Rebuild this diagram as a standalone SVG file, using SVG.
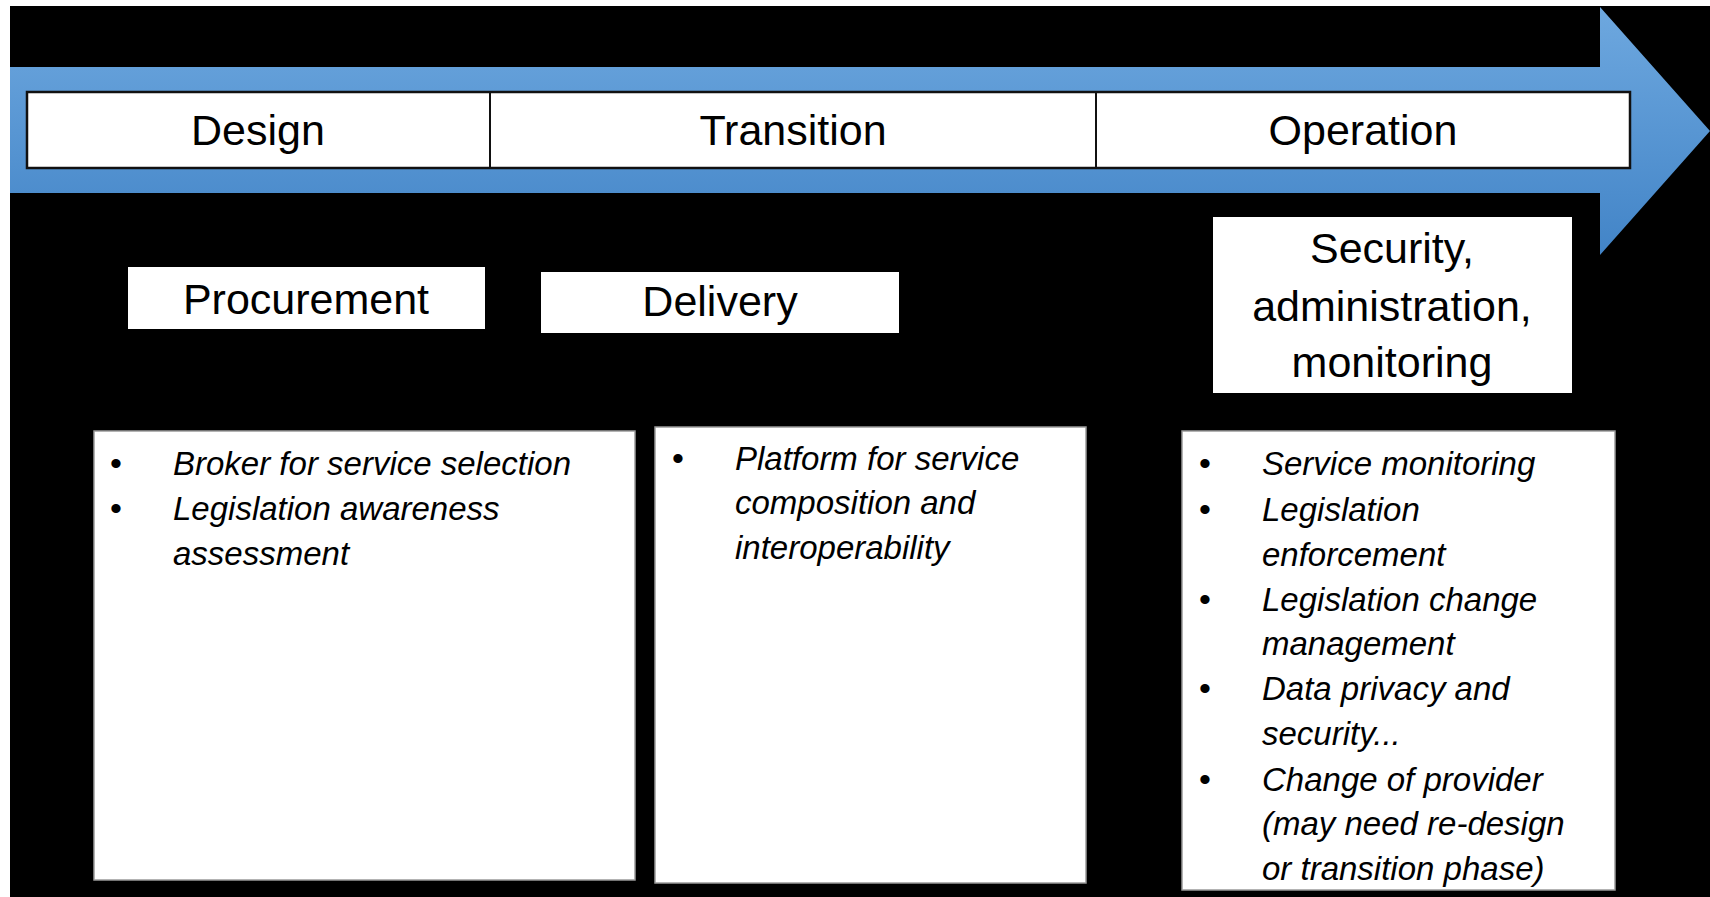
<svg xmlns="http://www.w3.org/2000/svg" width="1710" height="897" viewBox="0 0 1710 897">
  <defs>
    <linearGradient id="blue" gradientUnits="userSpaceOnUse" x1="0" y1="7" x2="0" y2="255">
      <stop offset="0" stop-color="#6ea8df"/>
      <stop offset="1" stop-color="#4284c7"/>
    </linearGradient>
  </defs>
  <style>
    .lbl { font-family: "Liberation Sans", Arial, sans-serif; font-size: 43px; fill: #000; text-anchor: middle; }
    .itm { font-family: "Liberation Sans", Arial, sans-serif; font-size: 33px; font-style: italic; fill: #000; }
    .bul { font-family: "Liberation Sans", Arial, sans-serif; font-size: 34px; fill: #000; }
    .box { fill: #fff; stroke: #9a9a9a; stroke-width: 1.5; }
    .band { fill: #fff; stroke: #111; stroke-width: 2.5; }
  </style>
  <rect x="0" y="0" width="1710" height="897" fill="#fff"/>
  <rect x="10" y="6" width="1700" height="891" fill="#000"/>

  <g id="timeline-arrow">
    <polygon points="10,67 1600,67 1600,7 1710,131 1600,255 1600,193 10,193" fill="url(#blue)"/>
    <rect x="27" y="92" width="1603" height="76" class="band"/>
    <line x1="490" y1="92" x2="490" y2="168" stroke="#111" stroke-width="2"/>
    <line x1="1096" y1="92" x2="1096" y2="168" stroke="#111" stroke-width="2"/>
  </g>
  <g id="phase-design"><text x="258" y="145" class="lbl">Design</text></g>
  <g id="phase-transition"><text x="793" y="145" class="lbl">Transition</text></g>
  <g id="phase-operation"><text x="1363" y="145" class="lbl">Operation</text></g>

  <g id="procurement">
    <rect x="128" y="267" width="357" height="62" fill="#fff"/>
    <text x="306" y="314" class="lbl">Procurement</text>
  </g>
  <g id="delivery">
    <rect x="541" y="272" width="358" height="61" fill="#fff"/>
    <text x="720" y="316" class="lbl">Delivery</text>
  </g>
  <g id="security">
    <rect x="1213" y="217" width="359" height="176" fill="#fff"/>
    <text x="1392" y="263" class="lbl">Security,</text>
    <text x="1392" y="321" class="lbl">administration,</text>
    <text x="1392" y="377" class="lbl">monitoring</text>
  </g>

  <g id="design-items">
    <rect x="94" y="431" width="541" height="449" class="box"/>
    <text x="110" y="475" class="bul">•</text>
    <text x="173" y="475" class="itm">Broker for service selection</text>
    <text x="110" y="520" class="bul">•</text>
    <text x="173" y="520" class="itm">Legislation awareness</text>
    <text x="173" y="565" class="itm">assessment</text>
  </g>
  <g id="transition-items">
    <rect x="655" y="427" width="431" height="456" class="box"/>
    <text x="672" y="470" class="bul">•</text>
    <text x="735" y="470" class="itm">Platform for service</text>
    <text x="735" y="514" class="itm">composition and</text>
    <text x="735" y="559" class="itm">interoperability</text>
  </g>
  <g id="operation-items">
    <rect x="1182" y="431" width="433" height="459" class="box"/>
    <text x="1199" y="475" class="bul">•</text>
    <text x="1262" y="475" class="itm">Service monitoring</text>
    <text x="1199" y="521" class="bul">•</text>
    <text x="1262" y="521" class="itm">Legislation</text>
    <text x="1262" y="566" class="itm">enforcement</text>
    <text x="1199" y="611" class="bul">•</text>
    <text x="1262" y="611" class="itm">Legislation change</text>
    <text x="1262" y="655" class="itm">management</text>
    <text x="1199" y="700" class="bul">•</text>
    <text x="1262" y="700" class="itm">Data privacy and</text>
    <text x="1262" y="745" class="itm">security...</text>
    <text x="1199" y="791" class="bul">•</text>
    <text x="1262" y="791" class="itm">Change of provider</text>
    <text x="1262" y="835" class="itm">(may need re-design</text>
    <text x="1262" y="880" class="itm">or transition phase)</text>
  </g>
  <g id="connectors"></g>
</svg>
